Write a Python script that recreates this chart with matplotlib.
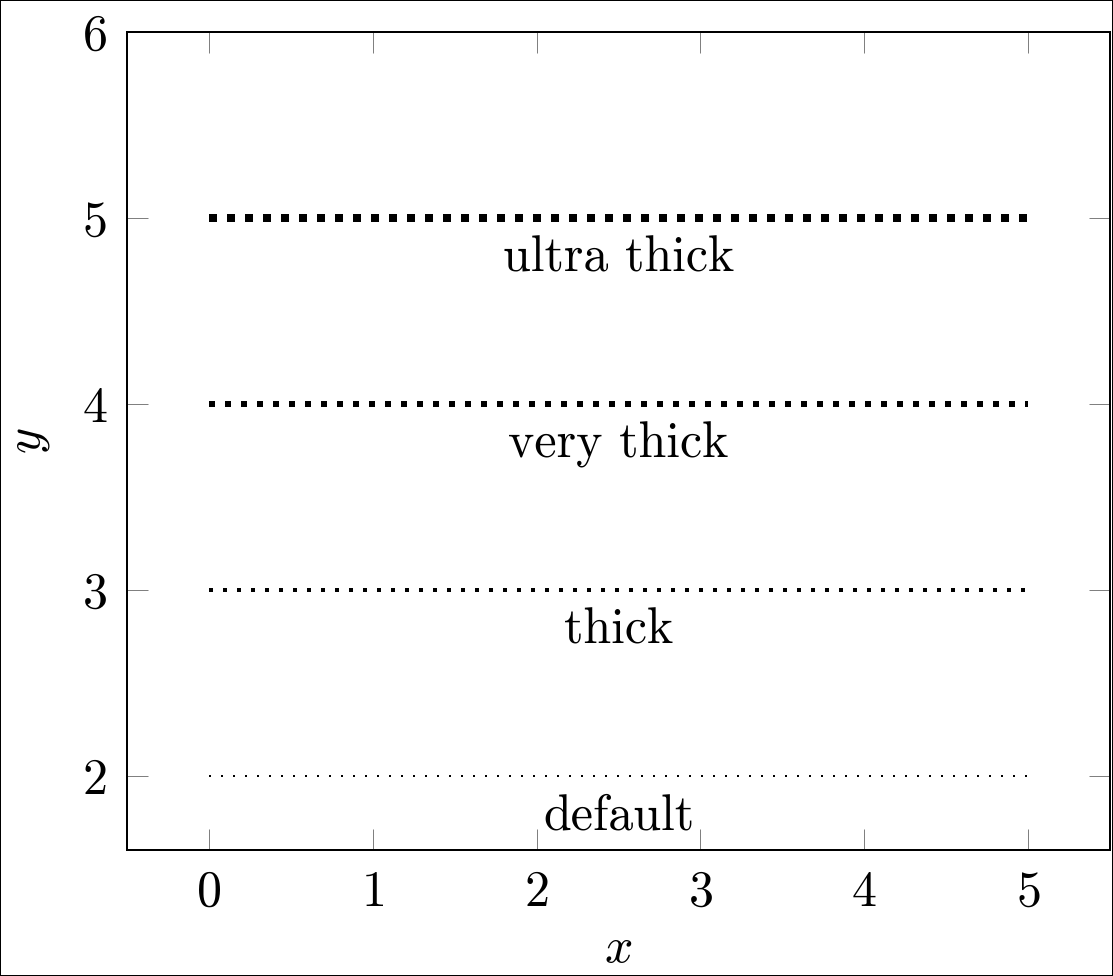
import numpy as np
import matplotlib
matplotlib.use('Agg')
import matplotlib.pyplot as plt
from matplotlib.patches import Rectangle

# data
x_start = 0
x_end = 5
levels = [5, 4, 3, 2]
labels = ['ultra thick', 'very thick', 'thick', 'default']
widths = [1.6, 1.2, 0.8, 0.4]   # tikz line widths in pt

xticks = [0, 1, 2, 3, 4, 5]
yticks = [2, 3, 4, 5, 6]

plt.rcParams['font.family'] = 'serif'
plt.rcParams['font.serif'] = ['cmr10']
plt.rcParams['mathtext.fontset'] = 'cm'
plt.rcParams['axes.formatter.use_mathtext'] = True
plt.rcParams['lines.scale_dashes'] = False
plt.rcParams['font.size'] = 10

dpi = 360
fig = plt.figure(figsize=(1113/dpi, 976/dpi), dpi=dpi)
ax = fig.add_axes([127/1113, 1-850/976, (1110-127)/1113, (850-32)/976])

for y, lab, lw in zip(levels, labels, widths):
    ax.plot([x_start, x_end], [y, y], color='black', lw=lw,
            linestyle=(0, (lw, 2.0)), dash_capstyle='butt', solid_capstyle='butt')
    ax.annotate(lab, xy=((x_start+x_end)/2, y), xytext=(0, -3.6),
                textcoords='offset points', ha='center', va='top', fontsize=10)

ax.set_xlim(-0.5, 5.5)
ax.set_ylim(1.6, 6)
ax.set_xticks(xticks)
ax.set_yticks(yticks)
ax.tick_params(direction='in', length=4.27, width=0.2, color='#808080',
               top=True, right=True, labelsize=10, pad=4)
for s in ax.spines.values():
    s.set_linewidth(0.4)
ax.set_xlabel('$x$', fontsize=10, labelpad=2)
ax.set_ylabel('$y$', fontsize=10, labelpad=5.8)

fig.patches.append(Rectangle((0, 0), 1, 1, transform=fig.transFigure,
                             fill=False, edgecolor='black', lw=0.4))

fig.savefig('out.png', dpi=dpi)
